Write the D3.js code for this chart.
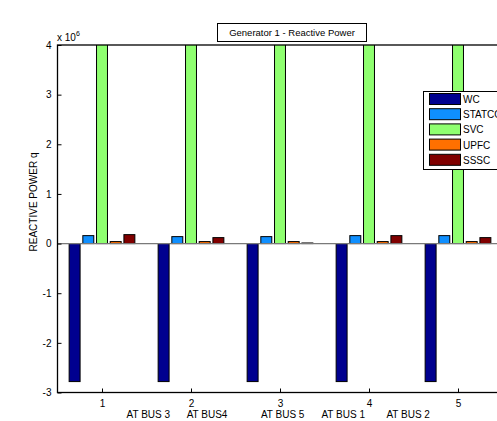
<!DOCTYPE html>
<html><head><meta charset="utf-8">
<script src="https://cdn.jsdelivr.net/npm/d3@7"></script>
<style>body{margin:0;background:#fff;}svg{display:block;font-family:"Liberation Sans",Arial,sans-serif;}</style>
</head><body>
<svg id="c" width="497" height="421"></svg>
<script>
const groups = [1, 2, 3, 4, 5];
const seriesNames = ["WC", "STATCOM", "SVC", "UPFC", "SSSC"];
const seriesColors = ["#00008f", "#0f8fff", "#8fff70", "#ff7000", "#800000"];
const WC      = [-2.78e6, -2.78e6, -2.78e6, -2.78e6, -2.78e6];
const STATCOM = [0.16e6, 0.14e6, 0.14e6, 0.16e6, 0.16e6];
const SVC     = [6e6, 6e6, 6e6, 6e6, 6e6];
const UPFC    = [0.04e6, 0.04e6, 0.04e6, 0.04e6, 0.04e6];
const SSSC    = [0.18e6, 0.12e6, 0.012e6, 0.16e6, 0.12e6];
const yTicks = [-3, -2, -1, 0, 1, 2, 3, 4];
const busLabels = ["AT BUS 3", "AT BUS4", "AT BUS 5", "AT BUS 1", "AT BUS 2"];
const busLabelX = [1.52, 2.18, 3.03, 3.71, 4.44];
const title = "Generator 1 - Reactive Power";
const yLabel = "REACTIVE POWER q";

const series = [WC, STATCOM, SVC, UPFC, SSSC];
const svg = d3.select("#c");
const L = 57.5, T = 45, B = 392.5, R = 502.5;
const x = d3.scaleLinear().domain([0.5, 5.5]).range([L, R]);
const y = d3.scaleLinear().domain([-3e6, 4e6]).range([B, T]);

svg.append("defs").append("clipPath").attr("id", "pc")
  .append("rect").attr("x", L).attr("y", T).attr("width", R - L).attr("height", B - T);

const n = series.length;
const gw = Math.min(0.8, n / (n + 1.5));
const sp = gw / n;
const bw = sp * 0.8;

const plot = svg.append("g").attr("clip-path", "url(#pc)");
series.forEach((vals, si) => {
  const off = (si - (n - 1) / 2) * sp;
  plot.selectAll(null).data(vals).enter().append("rect")
    .attr("x", (d, i) => x(groups[i] + off - bw / 2))
    .attr("width", (d, i) => x(groups[i] + off + bw / 2) - x(groups[i] + off - bw / 2))
    .attr("y", d => y(Math.max(0, d)))
    .attr("height", d => Math.abs(y(d) - y(0)))
    .attr("fill", seriesColors[si])
    .attr("stroke", "#000").attr("stroke-width", 1);
});
// baseline
plot.append("line").attr("x1", L).attr("x2", R).attr("y1", y(0)).attr("y2", y(0))
  .attr("stroke", "#7a7a7a").attr("stroke-width", 1.3);

// axes box
const axG = svg.append("g");
axG.append("rect").attr("x", L).attr("y", T).attr("width", R - L).attr("height", B - T)
  .attr("fill", "none").attr("stroke", "#000").attr("stroke-width", 1.3);

const xAxis = d3.axisBottom(x).tickValues(groups).tickSize(-4).tickPadding(7).tickFormat(d3.format("d"));
const xg = svg.append("g").attr("transform", `translate(0,${B})`).call(xAxis);
xg.select(".domain").remove();
xg.selectAll("text").attr("font-size", 10).attr("fill", "#000").attr("font-family", "Liberation Sans, Arial");

const yAxis = d3.axisLeft(y).tickValues(yTicks.map(v => v * 1e6)).tickSize(-4).tickPadding(6).tickFormat(d => d / 1e6);
const yg = svg.append("g").attr("transform", `translate(${L},0)`).call(yAxis);
yg.select(".domain").remove();
yg.selectAll("text").attr("font-size", 10).attr("fill", "#000").attr("font-family", "Liberation Sans, Arial");

// exponent label
const ex = svg.append("text").attr("x", 57).attr("y", 41).attr("font-size", 10).attr("fill", "#000");
ex.append("tspan").text("x 10");
ex.append("tspan").attr("font-size", 7).attr("dy", -5).text("6");

// bus labels
svg.selectAll(".bus").data(busLabels).enter().append("text")
  .attr("x", (d, i) => x(busLabelX[i])).attr("y", 418)
  .attr("text-anchor", "middle").attr("font-size", 10).attr("fill", "#000")
  .text(d => d);

// y label
svg.append("text").attr("transform", `translate(37,202) rotate(-90)`)
  .attr("text-anchor", "middle").attr("font-size", 10).attr("fill", "#000").text(yLabel);

// title box
svg.append("rect").attr("x", 217.5).attr("y", 23.5).attr("width", 149).attr("height", 18)
  .attr("fill", "#fff").attr("stroke", "#000").attr("stroke-width", 1);
svg.append("text").attr("x", 292).attr("y", 36).attr("text-anchor", "middle")
  .attr("font-size", 9.5).attr("fill", "#000").text(title);

// legend
const lg = svg.append("g");
lg.append("rect").attr("x", 423.5).attr("y", 91.5).attr("width", 100).attr("height", 78)
  .attr("fill", "#fff").attr("stroke", "#000").attr("stroke-width", 1);
seriesNames.forEach((nm, i) => {
  const cy = 99 + i * 15.2;
  lg.append("rect").attr("x", 429.5).attr("y", cy - 5.5).attr("width", 31).attr("height", 11)
    .attr("fill", seriesColors[i]).attr("stroke", "#000").attr("stroke-width", 1);
  lg.append("text").attr("x", 463).attr("y", cy + 4).attr("font-size", 10).attr("fill", "#000").text(nm);
});
</script>
</body></html>
